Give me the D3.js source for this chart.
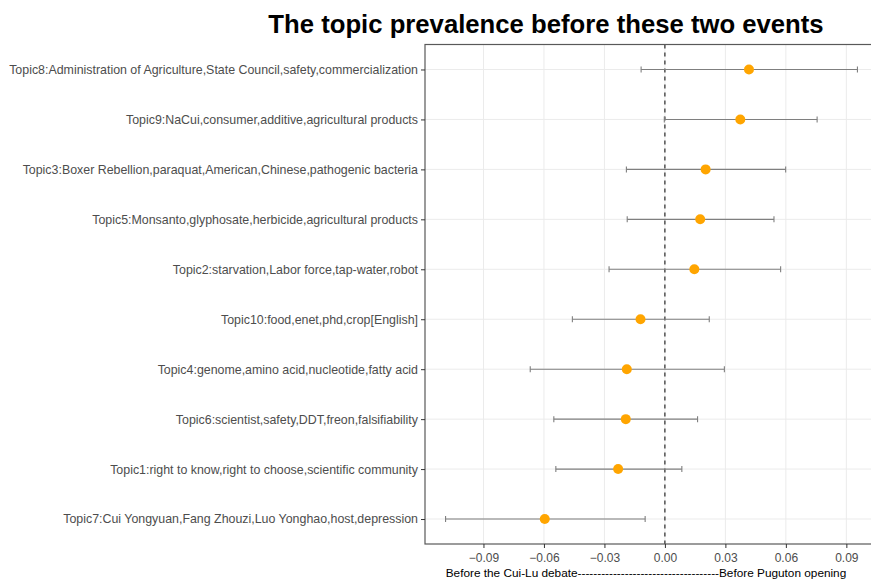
<!DOCTYPE html>
<html>
<head>
<meta charset="utf-8">
<script src="https://cdn.jsdelivr.net/npm/d3@7"></script>
<style>
  html, body { margin: 0; padding: 0; background: #ffffff; }
  svg { display: block; font-family: "Liberation Sans", Arial, sans-serif; }
</style>
</head>
<body>
<svg id="chart" width="871" height="582"></svg>
<script>
// Topics, listed top to bottom
const topics = [
  "Topic8:Administration of Agriculture,State Council,safety,commercialization",
  "Topic9:NaCui,consumer,additive,agricultural products",
  "Topic3:Boxer Rebellion,paraquat,American,Chinese,pathogenic bacteria",
  "Topic5:Monsanto,glyphosate,herbicide,agricultural products",
  "Topic2:starvation,Labor force,tap-water,robot",
  "Topic10:food,enet,phd,crop[English]",
  "Topic4:genome,amino acid,nucleotide,fatty acid",
  "Topic6:scientist,safety,DDT,freon,falsifiability",
  "Topic1:right to know,right to choose,scientific community",
  "Topic7:Cui Yongyuan,Fang Zhouzi,Luo Yonghao,host,depression"
];
// Estimated difference in topic prevalence and its confidence bounds
const estimates = [0.0417, 0.0374, 0.0202, 0.0175, 0.0146, -0.0121, -0.0189, -0.0194, -0.0232, -0.0596];
const lowerBounds = [-0.0118, -0.0003, -0.0191, -0.0187, -0.0277, -0.0459, -0.0668, -0.0551, -0.0541, -0.1088];
const upperBounds = [0.0955, 0.0755, 0.0599, 0.0541, 0.0574, 0.0220, 0.0295, 0.0162, 0.0084, -0.0098];
const xTicks = [-0.09, -0.06, -0.03, 0.00, 0.03, 0.06, 0.09];

const titleText = "The topic prevalence before these two events";
const xTitle = "Before the Cui-Lu debate------------------------------------Before Puguton opening";

const rows = topics.map((t, i) => ({ topic: t, est: estimates[i], lo: lowerBounds[i], hi: upperBounds[i] }));

const svg = d3.select("#chart");
const panel = { left: 425, top: 44.5, right: 878, bottom: 544 };

const x = d3.scaleLinear().domain([-0.119, 0.1057]).range([panel.left, panel.right]);
const y = d3.scalePoint().domain(topics).range([panel.top, panel.bottom]).padding(0.5);

// panel background
svg.append("rect")
  .attr("x", panel.left).attr("y", panel.top)
  .attr("width", panel.right - panel.left).attr("height", panel.bottom - panel.top)
  .attr("fill", "#ffffff");

// grid lines
const grid = svg.append("g");
grid.selectAll(".vgrid").data(xTicks).join("line")
  .attr("x1", d => x(d)).attr("x2", d => x(d))
  .attr("y1", panel.top).attr("y2", panel.bottom)
  .attr("stroke", "#ebebeb").attr("stroke-width", 1);
grid.selectAll(".hgrid").data(topics).join("line")
  .attr("x1", panel.left).attr("x2", panel.right)
  .attr("y1", d => y(d)).attr("y2", d => y(d))
  .attr("stroke", "#ebebeb").attr("stroke-width", 1);

// reference line at zero
svg.append("line")
  .attr("x1", x(0)).attr("x2", x(0))
  .attr("y1", panel.top).attr("y2", panel.bottom)
  .attr("stroke", "#000000").attr("stroke-width", 1)
  .attr("stroke-dasharray", "4,4");

// error bars
const bars = svg.append("g").selectAll("g").data(rows).join("g")
  .attr("stroke", "#7f7f7f").attr("stroke-width", 1.1);
bars.append("line")
  .attr("x1", d => x(d.lo)).attr("x2", d => x(d.hi))
  .attr("y1", d => y(d.topic)).attr("y2", d => y(d.topic));
bars.append("line")
  .attr("x1", d => x(d.lo)).attr("x2", d => x(d.lo))
  .attr("y1", d => y(d.topic) - 3).attr("y2", d => y(d.topic) + 3);
bars.append("line")
  .attr("x1", d => x(d.hi)).attr("x2", d => x(d.hi))
  .attr("y1", d => y(d.topic) - 3).attr("y2", d => y(d.topic) + 3);

// point estimates
svg.append("g").selectAll("circle").data(rows).join("circle")
  .attr("cx", d => x(d.est)).attr("cy", d => y(d.topic))
  .attr("r", 5).attr("fill", "#ffa500");

// panel border
svg.append("rect")
  .attr("x", panel.left).attr("y", panel.top)
  .attr("width", panel.right - panel.left).attr("height", panel.bottom - panel.top)
  .attr("fill", "none").attr("stroke", "#595959").attr("stroke-width", 1.2);

// axes
const xAxis = svg.append("g")
  .attr("transform", `translate(0,${panel.bottom})`)
  .call(d3.axisBottom(x).tickValues(xTicks).tickFormat(d3.format(".2f")).tickSize(4).tickPadding(5));
const yAxis = svg.append("g")
  .attr("transform", `translate(${panel.left},0)`)
  .call(d3.axisLeft(y).tickSize(4).tickPadding(3));
[xAxis, yAxis].forEach(a => {
  a.select(".domain").remove();
  a.selectAll(".tick line").attr("stroke", "#333333");
  a.selectAll(".tick text").attr("fill", "#4d4d4d")
    .style("font-family", "'Liberation Sans', Arial, sans-serif");
});
xAxis.selectAll(".tick text").style("font-size", "12px");
yAxis.selectAll(".tick text").style("font-size", "12.4px");

// titles
svg.append("text")
  .attr("x", 546).attr("y", 33)
  .attr("text-anchor", "middle")
  .style("font-size", "25.7px").style("font-weight", "bold")
  .attr("fill", "#000000")
  .text(titleText);

svg.append("text")
  .attr("x", 646).attr("y", 577)
  .attr("text-anchor", "middle")
  .style("font-size", "11.8px")
  .attr("fill", "#000000")
  .text(xTitle);
</script>
</body>
</html>
